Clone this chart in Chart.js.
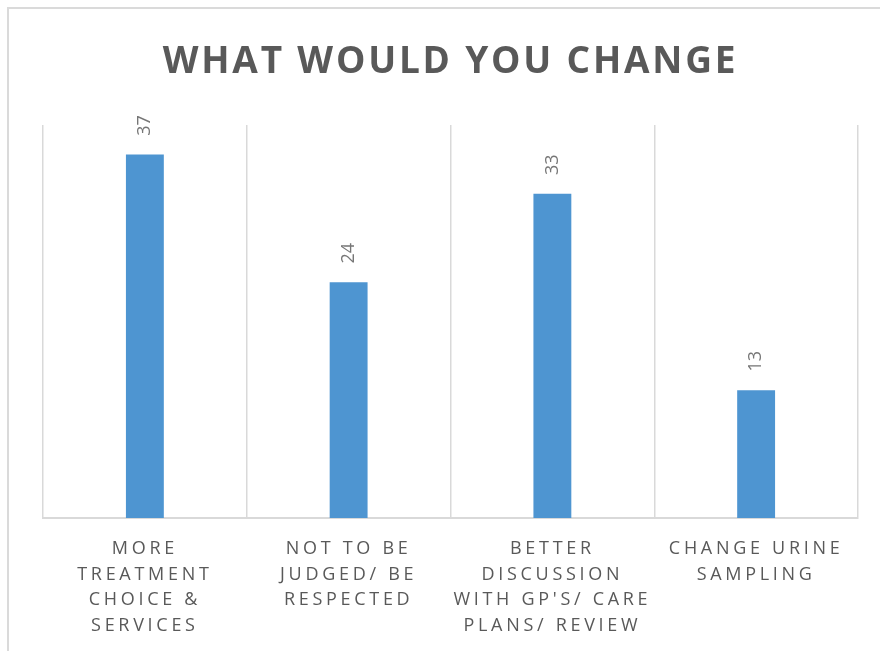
<!DOCTYPE html>
<html>
<head>
<meta charset="utf-8">
<script src="https://cdn.jsdelivr.net/npm/chart.js@4/dist/chart.umd.min.js"></script>
<style>
    html, body { margin: 0; padding: 0; background: #fff; overflow: hidden; }
    #frame { position: absolute; left: 7px; top: 7px; width: 873px; height: 644px;
             border-left: 2px solid #dadada; border-top: 2px solid #dadada; }
    #wrap { position: absolute; left: 0; top: 0; width: 880px; height: 651px; }
</style>
</head>
<body>
<div id="frame"></div>
<div id="wrap"><canvas id="changeChart" width="880" height="651"></canvas></div>
<script>
const categories = [
    ["MORE", "TREATMENT", "CHOICE &", "SERVICES"],
    ["NOT TO BE", "JUDGED/ BE", "RESPECTED"],
    ["BETTER", "DISCUSSION", "WITH GP'S/ CARE", "PLANS/ REVIEW"],
    ["CHANGE URINE", "SAMPLING"]
];
const responses = [37, 24, 33, 13];
const yMax = 40;

// spaced-out lettering like the original (ticks + title)
const letterSpacing = {
    id: "letterSpacing",
    beforeDraw(chart) {
        const x = chart.scales.x;
        if (!x._spaced) {
            const orig = x.drawLabels;
            x.drawLabels = function (area) {
                this.ctx.save();
                this.ctx.letterSpacing = "3.7px";
                orig.call(this, area);
                this.ctx.restore();
            };
            x._spaced = true;
        }
        const t = chart.titleBlock;
        if (t && !t._spaced) {
            const origT = t.draw;
            t.draw = function () {
                this.ctx.save();
                this.ctx.letterSpacing = "2.8px";
                origT.apply(this, arguments);
                this.ctx.restore();
            };
            t._spaced = true;
        }
    }
};

const barValueLabels = {
    id: "barValueLabels",
    afterDatasetsDraw(chart) {
        const ctx = chart.ctx;
        const meta = chart.getDatasetMeta(0);
        ctx.save();
        ctx.fillStyle = "#767676";
        ctx.font = "18px 'Open Sans'";
        ctx.textAlign = "center";
        ctx.textBaseline = "middle";
        meta.data.forEach((bar, i) => {
            ctx.save();
            ctx.translate(bar.x, bar.y - 29);
            ctx.rotate(-Math.PI / 2);
            ctx.fillText(String(responses[i]), 0, 0);
            ctx.restore();
        });
        ctx.restore();
    }
};

const ctx = document.getElementById("changeChart").getContext("2d");
new Chart(ctx, {
    type: "bar",
    data: {
        labels: categories,
        datasets: [{
            label: "Responses",
            data: responses,
            backgroundColor: "#4e95d1",
            borderWidth: 0,
            barPercentage: 1,
            categoryPercentage: 0.186
        }]
    },
    options: {
        responsive: false,
        animation: false,
        layout: { padding: { left: 43, right: 22, top: 0, bottom: 0 } },
        plugins: {
            legend: { display: false },
            tooltip: { enabled: false },
            title: {
                display: true,
                text: "WHAT WOULD YOU CHANGE",
                color: "#595959",
                font: { family: "'Open Sans'", size: 37, weight: "bold", lineHeight: 1.2 },
                padding: { top: 40, bottom: 40.6 }
            }
        },
        scales: {
            x: {
                grid: { offset: true, color: "#d9d9d9", lineWidth: 1.5, drawTicks: false },
                border: { color: "#d9d9d9", width: 2 },
                ticks: {
                    color: "#595959",
                    font: { family: "'Open Sans'", size: 18, lineHeight: 1.43 },
                    padding: 18,
                    maxRotation: 0,
                    autoSkip: false
                },
                afterFit(scale) { scale.height = 133; }
            },
            y: {
                display: false,
                min: 0,
                max: yMax
            }
        }
    },
    plugins: [letterSpacing, barValueLabels]
});
</script>
</body>
</html>
